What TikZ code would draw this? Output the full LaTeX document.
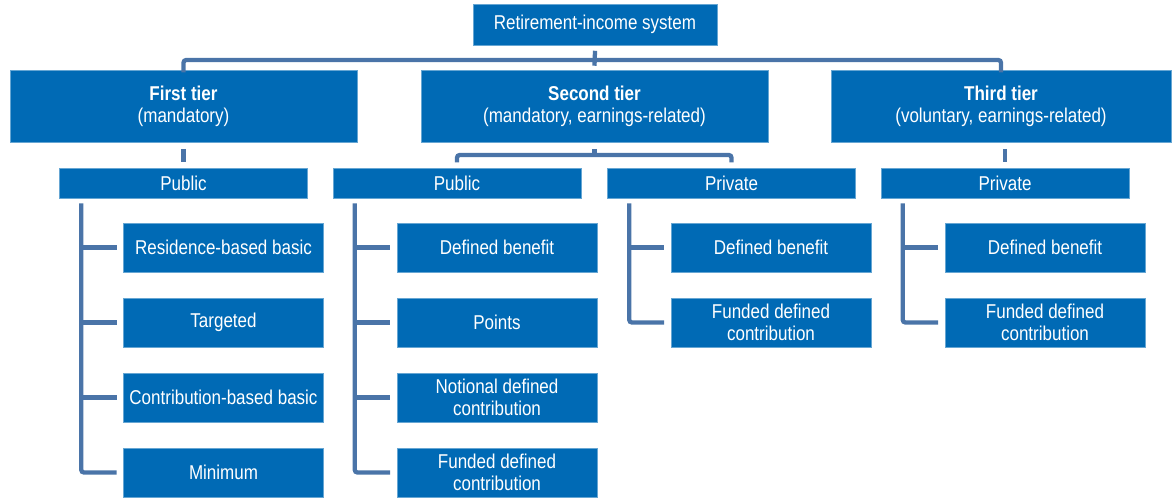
\documentclass[tikz,border=0pt]{standalone}
\usepackage{fontspec}
\setmainfont{Liberation Sans}[FakeStretch=0.85]
\usepackage{xcolor}
\usepackage{tikz}
\usetikzlibrary{calc, positioning}

\definecolor{boxblue}{RGB}{0,106,181}
\definecolor{linkblue}{RGB}{74,116,168}

\begin{document}
\begin{tikzpicture}[x=0.75pt, y=-0.75pt,
    box/.style={fill=boxblue, draw=boxblue!60!white, line width=0.4pt, text=white,
        inner sep=0pt, align=center, font=\fontsize{15}{16.5}\selectfont},
    tierbox/.style={box, minimum width=260pt, minimum height=54pt},
    subbox/.style={box, minimum width=186pt, minimum height=22.5pt},
    leafbox/.style={box, minimum width=150pt, minimum height=37pt},
    link/.style={draw=linkblue, line width=3.2pt, rounded corners=2pt}]
    \useasboundingbox (0,0) rectangle (1173,497);

    % 1. Top box
    \node[box, minimum width=183pt, minimum height=31pt] (sys) at (595,24.5) {Retirement-income system};

    % 2. Tiers
    \node[tierbox] (tier1) at (183.5,106) {\textbf{First tier}\\(mandatory)};
    \node[tierbox] (tier2) at (594.5,106) {\textbf{Second tier}\\(mandatory, earnings-related)};
    \node[tierbox, minimum width=255pt] (tier3) at (1001,106) {\textbf{Third tier}\\(voluntary, earnings-related)};

    % 3. Public / private
    \node[subbox] (pub1) at (183.5,183) {Public};
    \node[subbox] (pub2) at (457,183) {Public};
    \node[subbox] (priv2) at (731.5,183) {Private};
    \node[subbox] (priv3) at (1005,183) {Private};

    % 4. Leaves
    \node[leafbox] (a1) at (223.5,247.5) {Residence-based basic};
    \node[leafbox] (a2) at (223.5,322.5) {Targeted};
    \node[leafbox] (a3) at (223.5,397.5) {Contribution-based basic};
    \node[leafbox] (a4) at (223.5,472.5) {Minimum};
    \node[leafbox] (b1) at (497,247.5) {Defined benefit};
    \node[leafbox] (b2) at (497,322.5) {Points};
    \node[leafbox] (b3) at (497,397.5) {Notional defined\\contribution};
    \node[leafbox] (b4) at (497,472.5) {Funded defined\\contribution};
    \node[leafbox] (c1) at (771,247.5) {Defined benefit};
    \node[leafbox] (c2) at (771,322.5) {Funded defined\\contribution};
    \node[leafbox] (d1) at (1045,247.5) {Defined benefit};
    \node[leafbox] (d2) at (1045,322.5) {Funded defined\\contribution};

    % 5. Connectors between levels
    \coordinate (bar) at (sys.south |- 0,60);
    \draw[link] ([yshift=-2pt]tier1.north) |- (bar) -| ([yshift=-2pt]tier3.north);
    \draw[link] ([yshift=-4pt]sys.south) -- ([yshift=3pt]tier2.north);
    \draw[link] ([yshift=-5pt]tier1.south) -- ([yshift=4pt]pub1.north);
    \draw[link] ([yshift=-5pt]tier3.south -| priv3.north) -- ([yshift=4pt]priv3.north);
    \coordinate (bar2) at (tier2.south |- 0,155);
    \draw[link] ([yshift=4pt]pub2.north) |- (bar2) -| ([yshift=4pt]priv2.north);
    \draw[link] ([yshift=-5pt]tier2.south) -- (bar2);

    % 6. Trees
    \foreach \top/\first/\last/\rest in {pub1/a1/a4/{a1,a2,a3}, pub2/b1/b4/{b1,b2,b3},
                                         priv2/c1/c2/{c1}, priv3/d1/d2/{d1}} {
        \coordinate (t-\top) at ([shift={(22,5)}]\top.south west);
        \draw[link] (t-\top) |- ([xshift=-5pt]\last.west);
        \foreach \n in \rest {
            \draw[link] (\n.west -| t-\top) -- ([xshift=-5pt]\n.west);
        }
    }
\end{tikzpicture}
\end{document}
